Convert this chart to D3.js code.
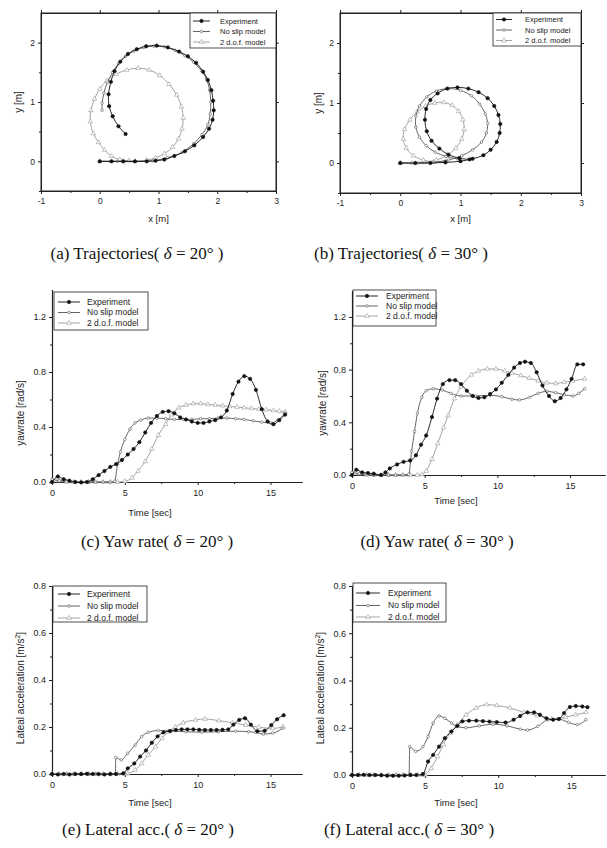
<!DOCTYPE html>
<html>
<head>
<meta charset="utf-8">
<script src="https://cdn.jsdelivr.net/npm/d3@7"></script>
<style>
  body { margin: 0; background: #fff; }
  svg { display: block; }
</style>
</head>
<body>
<script>
// ---- data ----
const seriesNames = ["Experiment", "No slip model", "2 d.o.f. model"];

// trajectories [x, y] in metres
const trajExp20 = [[0,0],[0.2,0],[0.4,0],[0.6,0],[0.8,0],[0.95,0.01],[1.1,0.03],[1.27,0.09],[1.45,0.17],[1.61,0.27],[1.76,0.41],[1.86,0.55],[1.92,0.7],[1.94,0.86],[1.93,1.02],[1.9,1.2],[1.84,1.37],[1.76,1.51],[1.64,1.66],[1.5,1.77],[1.35,1.85],[1.16,1.92],[0.97,1.95],[0.79,1.94],[0.63,1.89],[0.48,1.81],[0.35,1.68],[0.25,1.52],[0.19,1.34],[0.15,1.13],[0.16,0.93],[0.22,0.76],[0.32,0.59],[0.44,0.46]];
const trajNoSlip20 = [[0,0],[0.3,0],[0.6,0],[0.9,0.01],[1.15,0.06],[1.4,0.15],[1.6,0.3],[1.74,0.45],[1.84,0.62],[1.88,0.8],[1.89,1.0],[1.87,1.2],[1.82,1.38],[1.73,1.53],[1.6,1.67],[1.45,1.78],[1.28,1.87],[1.1,1.93],[0.92,1.94],[0.75,1.92],[0.58,1.86],[0.44,1.77],[0.32,1.65],[0.22,1.5],[0.13,1.33],[0.07,1.15],[0.04,0.98],[0.04,0.86]];
const trajDof20 = [[0,0],[0.2,0],[0.4,0],[0.6,0],[0.8,0.02],[0.95,0.06],[1.1,0.13],[1.24,0.24],[1.34,0.38],[1.4,0.55],[1.42,0.73],[1.39,0.92],[1.31,1.12],[1.18,1.3],[1.02,1.45],[0.84,1.54],[0.65,1.57],[0.46,1.54],[0.28,1.47],[0.12,1.36],[0.0,1.22],[-0.09,1.05],[-0.15,0.86],[-0.16,0.67],[-0.11,0.47],[-0.02,0.32],[0.08,0.19],[0.2,0.09],[0.34,0.03],[0.5,0.01]];

const trajExp30 = [[0,0],[0.25,0],[0.5,0],[0.75,0.01],[1.0,0.03],[1.2,0.07],[1.38,0.13],[1.5,0.22],[1.6,0.35],[1.65,0.5],[1.66,0.65],[1.63,0.8],[1.56,0.95],[1.45,1.08],[1.3,1.18],[1.13,1.24],[0.95,1.26],[0.78,1.24],[0.62,1.16],[0.5,1.05],[0.43,0.9],[0.41,0.72],[0.44,0.53],[0.52,0.37],[0.65,0.24],[0.8,0.14],[0.98,0.08],[1.15,0.06]];
const trajNoSlip30 = [[0,0],[0.3,0],[0.55,0.01],[0.8,0.05],[1.02,0.12],[1.2,0.22],[1.35,0.35],[1.43,0.5],[1.45,0.66],[1.41,0.82],[1.32,0.98],[1.18,1.12],[1.0,1.21],[0.8,1.24],[0.6,1.2],[0.44,1.1],[0.32,0.95],[0.26,0.78],[0.26,0.6],[0.32,0.43],[0.43,0.29],[0.58,0.18],[0.76,0.11],[0.95,0.07]];
const trajDof30 = [[0,0],[0.2,0],[0.4,0.01],[0.6,0.05],[0.78,0.13],[0.92,0.25],[1.02,0.4],[1.06,0.56],[1.04,0.72],[0.97,0.86],[0.86,0.96],[0.72,1.01],[0.57,1.0],[0.42,0.95],[0.28,0.85],[0.16,0.72],[0.07,0.56],[0.05,0.4],[0.1,0.25],[0.22,0.12],[0.38,0.05],[0.56,0.02],[0.75,0.03]];

// yaw rate [t, rad/s]
const yawExp20 = [[0,0],[0.4,0.04],[0.8,0.02],[1.2,0.01],[1.6,0],[2.0,-0.003],[2.4,0],[2.8,0.02],[3.2,0.05],[3.6,0.08],[4.0,0.11],[4.4,0.13],[4.8,0.16],[5.2,0.2],[5.6,0.24],[6.0,0.29],[6.4,0.36],[6.8,0.43],[7.2,0.48],[7.6,0.51],[8.0,0.515],[8.4,0.5],[8.8,0.47],[9.2,0.455],[9.6,0.44],[10.0,0.43],[10.4,0.43],[10.8,0.44],[11.2,0.45],[11.6,0.47],[12.0,0.52],[12.4,0.64],[12.8,0.73],[13.2,0.77],[13.6,0.75],[14.0,0.67],[14.4,0.53],[14.8,0.44],[15.2,0.42],[15.6,0.45],[16.0,0.49]];
const yawNoSlip20 = [[0,0.02],[0.5,0.01],[1,0.005],[1.5,0],[2,0],[2.5,0],[3,0],[3.5,0],[4,0],[4.3,0.005],[4.5,0.13],[4.7,0.22],[5.0,0.31],[5.35,0.385],[5.7,0.43],[6.1,0.45],[6.6,0.465],[7.2,0.465],[7.8,0.46],[8.4,0.455],[9.0,0.455],[9.6,0.455],[10.2,0.46],[10.8,0.46],[11.4,0.465],[12.0,0.465],[12.6,0.46],[13.2,0.455],[13.8,0.445],[14.4,0.435],[15.0,0.43],[15.5,0.45],[16.0,0.5]];
const yawDof20 = [[0,0],[0.5,0.01],[1,0],[1.5,0],[2,0],[2.5,0],[3,0],[3.5,0],[4,0],[4.5,0],[5.0,0.005],[5.5,0.03],[5.9,0.08],[6.4,0.15],[6.85,0.24],[7.3,0.34],[7.8,0.42],[8.2,0.49],[8.7,0.54],[9.2,0.56],[9.7,0.57],[10.2,0.57],[10.7,0.565],[11.2,0.56],[11.7,0.555],[12.2,0.55],[12.7,0.545],[13.2,0.54],[13.7,0.535],[14.2,0.53],[14.7,0.525],[15.2,0.52],[15.6,0.515],[16.0,0.51]];

const yawExp30 = [[0,0],[0.3,0.04],[0.7,0.02],[1.1,0.015],[1.5,0.01],[2.0,0],[2.3,0.02],[2.6,0.05],[3.1,0.08],[3.55,0.1],[4.0,0.11],[4.4,0.15],[4.75,0.23],[5.1,0.3],[5.5,0.44],[5.85,0.58],[6.25,0.69],[6.7,0.72],[7.1,0.72],[7.5,0.69],[7.9,0.64],[8.3,0.6],[8.7,0.585],[9.1,0.59],[9.5,0.615],[9.9,0.65],[10.3,0.7],[10.75,0.76],[11.15,0.815],[11.55,0.85],[11.9,0.86],[12.3,0.85],[12.7,0.78],[13.1,0.68],[13.55,0.6],[13.95,0.56],[14.35,0.585],[14.75,0.65],[15.1,0.73],[15.5,0.84],[15.9,0.84]];
const yawNoSlip30 = [[0,0.02],[0.5,0.01],[1,0.005],[1.5,0],[2,0],[2.5,0],[3,0],[3.5,0],[3.9,0.005],[4.1,0.18],[4.3,0.33],[4.5,0.47],[4.8,0.59],[5.1,0.64],[5.6,0.655],[6.2,0.645],[6.8,0.62],[7.5,0.6],[8.5,0.6],[9.5,0.605],[10.3,0.595],[11.0,0.575],[11.5,0.57],[12.2,0.59],[12.8,0.62],[13.4,0.635],[14.0,0.625],[14.6,0.61],[15.2,0.6],[15.6,0.62],[16.0,0.655]];
const yawDof30 = [[0,0],[0.5,0.01],[1,0],[1.5,0],[2,0],[2.5,0],[3,0],[3.5,0],[4,0],[4.5,0],[4.8,0.005],[5.1,0.03],[5.5,0.12],[5.9,0.24],[6.3,0.36],[6.6,0.45],[7.05,0.58],[7.5,0.67],[8.2,0.76],[8.7,0.79],[9.3,0.805],[9.9,0.805],[10.5,0.79],[11.0,0.775],[11.6,0.755],[12.2,0.735],[12.8,0.715],[13.4,0.7],[14.0,0.695],[14.6,0.705],[15.2,0.715],[16.0,0.73]];

// lateral acceleration [t, m/s^2]
const latExp20 = [[0,0],[0.4,-0.002],[0.8,0],[1.2,-0.002],[1.6,0],[2.0,0],[2.4,0.001],[2.8,0],[3.2,0],[3.6,-0.002],[4.0,0],[4.4,0],[4.9,0.003],[5.2,0.024],[5.65,0.045],[6.05,0.074],[6.45,0.1],[6.85,0.133],[7.25,0.16],[7.65,0.177],[8.1,0.183],[8.5,0.187],[8.9,0.19],[9.3,0.19],[9.7,0.19],[10.1,0.188],[10.5,0.187],[10.9,0.187],[11.3,0.187],[11.7,0.188],[12.1,0.19],[12.45,0.21],[12.85,0.23],[13.25,0.237],[13.65,0.21],[14.1,0.182],[14.6,0.184],[15.05,0.208],[15.45,0.233],[15.9,0.25]];
const latNoSlip20 = [[0,0],[0.5,0],[1,0],[1.5,0],[2,0],[2.5,0],[3,0],[3.5,0],[4.0,0],[4.35,0],[4.38,0.07],[4.75,0.06],[5.2,0.088],[5.7,0.123],[6.15,0.159],[6.6,0.177],[7.3,0.185],[8.2,0.183],[9.2,0.18],[10.3,0.178],[11.4,0.18],[12.6,0.182],[13.5,0.18],[14.0,0.177],[14.5,0.17],[15.15,0.174],[15.85,0.195]];
const latDof20 = [[0,0],[0.5,0],[1,0],[1.5,0],[2,0],[2.5,0],[3,0],[3.5,0],[4,0],[4.5,0],[5.0,0],[5.2,0.002],[5.7,0.017],[6.15,0.045],[6.6,0.081],[7.1,0.116],[7.55,0.152],[8.0,0.18],[8.45,0.2],[9.0,0.218],[9.85,0.23],[10.5,0.234],[11.45,0.227],[12.4,0.218],[13.3,0.208],[14.2,0.199],[15.15,0.194],[15.85,0.2]];

const latExp30 = [[0,0],[0.4,0],[0.8,0.001],[1.2,0],[1.6,0],[2.0,-0.001],[2.4,-0.003],[2.8,-0.003],[3.2,-0.003],[3.6,-0.002],[4.0,0],[4.4,0],[4.85,0.004],[5.2,0.057],[5.55,0.085],[5.95,0.12],[6.35,0.156],[6.8,0.184],[7.2,0.208],[7.55,0.227],[8.0,0.23],[8.5,0.23],[8.95,0.228],[9.4,0.226],[9.9,0.224],[10.5,0.222],[11.05,0.234],[11.5,0.25],[12.0,0.265],[12.45,0.265],[12.85,0.255],[13.3,0.24],[13.75,0.234],[14.15,0.237],[14.5,0.262],[14.9,0.288],[15.3,0.292],[15.75,0.29],[16.1,0.287]];
const latNoSlip30 = [[0,0],[0.5,0],[1,0],[1.5,0],[2,0],[2.5,0],[3,0],[3.5,0],[3.9,0],[3.95,0.12],[4.35,0.1],[4.85,0.12],[5.2,0.163],[5.55,0.22],[5.95,0.25],[6.35,0.24],[6.8,0.22],[7.2,0.205],[7.8,0.2],[8.7,0.208],[9.65,0.215],[10.6,0.208],[11.5,0.194],[12.0,0.19],[12.7,0.206],[13.4,0.234],[14.1,0.237],[14.8,0.223],[15.4,0.213],[16.0,0.234]];
const latDof30 = [[0,0],[0.5,0],[1,0],[1.5,0],[2,0],[2.5,0],[3,0],[3.5,0],[4,0],[4.5,0],[4.9,0],[5.0,0.002],[5.4,0.028],[5.85,0.078],[6.25,0.128],[6.7,0.177],[7.2,0.213],[7.8,0.255],[8.5,0.284],[9.2,0.298],[9.9,0.294],[10.8,0.284],[11.75,0.265],[12.7,0.251],[13.65,0.237],[14.6,0.245],[15.3,0.255],[16.0,0.265]];

// tick values
const trajTicksX = [-1, 0, 1, 2, 3];
const trajTicksY = [0, 1, 2];
const timeTicks = [0, 5, 10, 15];
const timeMinor = [2.5, 7.5, 12.5, 17.5];
const yawTicks = [0, 0.4, 0.8, 1.2];
const yawMinor = [0.2, 0.6, 1.0];
const latTicks = [0, 0.2, 0.4, 0.6, 0.8];
const latMinor = [0.1, 0.3, 0.5, 0.7];

// ---- drawing ----
const W = 607, H = 848;
const svg = d3.select("body").append("svg")
    .attr("width", W)
    .attr("height", H)
    .attr("font-family", "'Liberation Sans', Arial, sans-serif");

const styles = [
  {stroke: "#111", sym: "circle", fill: "#111", r: 1.7},
  {stroke: "#555", sym: "circle", fill: "#fff", r: 1.3},
  {stroke: "#9a9a9a", sym: "tri", fill: "#fff", r: 1.6}
];

function marker(g, pts, s) {
  if (s.sym === "circle") {
    g.selectAll(null).data(pts).enter().append("circle")
        .attr("cx", d => d[0]).attr("cy", d => d[1]).attr("r", s.r)
        .attr("fill", s.fill).attr("stroke", s.stroke).attr("stroke-width", 0.6);
  } else {
    g.selectAll(null).data(pts).enter().append("path")
        .attr("transform", d => `translate(${d[0]},${d[1]})`)
        .attr("d", d3.symbol(d3.symbolTriangle, 9))
        .attr("fill", s.fill).attr("stroke", s.stroke).attr("stroke-width", 0.6);
  }
}

function drawSeries(g, data, x, y, s, curve) {
  const line = d3.line().x(d => x(d[0])).y(d => y(d[1])).curve(curve);
  g.append("path").datum(data)
      .attr("fill", "none").attr("stroke", s.stroke).attr("stroke-width", 0.9)
      .attr("d", line);
  marker(g, data.map(d => [x(d[0]), y(d[1])]), s);
}

function legend(g, L) {
  g.append("rect")
      .attr("x", L.x).attr("y", L.y).attr("width", L.w).attr("height", L.h)
      .attr("fill", "#fff").attr("stroke", "#222").attr("stroke-width", 0.8);
  seriesNames.forEach((name, i) => {
    const yy = L.rows[i];
    g.append("line")
        .attr("x1", L.sx0).attr("x2", L.sx1).attr("y1", yy).attr("y2", yy)
        .attr("stroke", styles[i].stroke).attr("stroke-width", 0.9);
    marker(g, [[(L.sx0 + L.sx1) / 2, yy]], styles[i]);
    g.append("text")
        .attr("x", L.tx).attr("y", yy).attr("dy", "0.35em")
        .attr("font-size", L.fs).attr("fill", "#222")
        .text(name);
  });
}

function caption(cx, cy, lead, deg) {
  const t = svg.append("text")
      .attr("x", cx).attr("y", cy)
      .attr("text-anchor", "middle")
      .attr("font-family", "'Liberation Serif', 'Times New Roman', serif")
      .attr("font-size", 17).attr("fill", "#111");
  t.append("tspan").text(lead + "( ");
  t.append("tspan").attr("font-style", "italic").text("\u03b4");
  t.append("tspan").text(" = " + deg + "\u00b0 )");
}

function trajPanel(P) {
  const g = svg.append("g");
  const x = d3.scaleLinear().domain([-1, 3]).range([P.x0, P.x1]);
  const y = d3.scaleLinear().domain([-0.5, 2.5]).range([P.y0, P.y1]);

  g.append("rect")
      .attr("x", P.x0).attr("y", P.y1).attr("width", P.x1 - P.x0).attr("height", P.y0 - P.y1)
      .attr("fill", "none").attr("stroke", "#222").attr("stroke-width", 1);

  g.append("g").attr("transform", `translate(0,${P.y0})`)
      .call(d3.axisBottom(x).tickValues(trajTicksX).tickSize(3).tickSizeOuter(0).tickPadding(4)
        .tickFormat(d => String(d)));
  g.append("g").attr("transform", `translate(${P.x0},0)`)
      .call(d3.axisLeft(y).tickValues(trajTicksY).tickSize(3).tickSizeOuter(0).tickPadding(3)
        .tickFormat(d => String(d)));
  g.append("g").attr("transform", `translate(0,${P.y1})`)
      .call(d3.axisTop(x).tickValues(trajTicksX).tickSize(3).tickSizeOuter(0).tickFormat(""));
  g.append("g").attr("transform", `translate(${P.x1},0)`)
      .call(d3.axisRight(y).tickValues(trajTicksY).tickSize(3).tickSizeOuter(0).tickFormat(""));
  g.append("g").attr("transform", `translate(0,${P.y0})`)
      .call(d3.axisBottom(x).tickValues([-0.5, 0.5, 1.5, 2.5]).tickSize(2).tickSizeOuter(0).tickFormat(""));
  g.append("g").attr("transform", `translate(${P.x0},0)`)
      .call(d3.axisLeft(y).tickValues([-0.5, 0.5, 1.5]).tickSize(2).tickSizeOuter(0).tickFormat(""));
  g.selectAll(".domain").attr("stroke", "#222");
  g.selectAll(".tick line").attr("stroke", "#222");
  g.selectAll(".tick text").attr("font-size", 8.5).attr("fill", "#222");

  const plot = g.append("g");
  [P.dof, P.noslip, P.exp].forEach((d, k) => {
    drawSeries(plot, d, x, y, styles[2 - k], d3.curveCatmullRom);
  });

  g.append("text").attr("x", (P.x0 + P.x1) / 2).attr("y", P.xl)
      .attr("text-anchor", "middle").attr("font-size", 9.5).attr("fill", "#222").text("x [m]");
  g.append("text")
      .attr("transform", `translate(${P.yl},${y(1)}) rotate(-90)`)
      .attr("text-anchor", "middle").attr("font-size", 10).attr("fill", "#222").text("y [m]");

  legend(g, P.legend);
}

function timePanel(P) {
  const g = svg.append("g");
  const x = d3.scaleLinear().domain([0, P.xMax]).range([P.x0, P.x1]);
  const y = d3.scaleLinear().domain([0, P.yMax]).range([P.y0, P.y1]);

  g.append("g").attr("transform", `translate(0,${P.y0})`)
      .call(d3.axisBottom(x).tickValues(timeTicks).tickSize(3).tickSizeOuter(0).tickPadding(5));
  g.append("g").attr("transform", `translate(0,${P.y0})`)
      .call(d3.axisBottom(x).tickValues(timeMinor.filter(v => v < P.xMax)).tickSize(2).tickSizeOuter(0).tickFormat(""));
  g.append("g").attr("transform", `translate(${P.x0},0)`)
      .call(d3.axisLeft(y).tickValues(P.yTicks).tickSize(3).tickSizeOuter(0).tickPadding(3).tickFormat(d3.format(".1f")));
  g.append("g").attr("transform", `translate(${P.x0},0)`)
      .call(d3.axisLeft(y).tickValues(P.yMinor).tickSize(2).tickSizeOuter(0).tickFormat(""));
  g.selectAll(".domain").attr("stroke", "#222").attr("stroke-width", 1.1);
  g.selectAll(".tick line").attr("stroke", "#222");
  g.selectAll(".tick text").attr("font-size", 9).attr("fill", "#222");

  const plot = g.append("g");
  [P.dof, P.noslip, P.exp].forEach((d, k) => {
    drawSeries(plot, d, x, y, styles[2 - k], d3.curveMonotoneX);
  });

  g.append("text").attr("x", P.xlx).attr("y", P.xl)
      .attr("text-anchor", "middle").attr("font-size", 9.5).attr("fill", "#222").text("Time [sec]");
  const yt = g.append("text")
      .attr("transform", `translate(${P.yl},${P.ylc}) rotate(-90)`)
      .attr("text-anchor", "middle").attr("font-size", 10).attr("fill", "#222");
  if (P.kind === "yaw") {
    yt.text("yawrate [rad/s]");
  } else {
    yt.append("tspan").text("Lateal acceleration [m/s");
    yt.append("tspan").attr("dy", -4).attr("font-size", 7).text("2");
    yt.append("tspan").attr("dy", 4).text("]");
  }

  legend(g, P.legend);
}

trajPanel({x0: 41, x1: 276, y0: 191, y1: 13, xl: 222, yl: 22,
  exp: trajExp20, noslip: trajNoSlip20, dof: trajDof20,
  legend: {x: 190, y: 13, w: 86, h: 35, sx0: 193, sx1: 210, tx: 220, rows: [21, 31.5, 42], fs: 7.5}});
trajPanel({x0: 340, x1: 581, y0: 193, y1: 13, xl: 222, yl: 322,
  exp: trajExp30, noslip: trajNoSlip30, dof: trajDof30,
  legend: {x: 493, y: 13, w: 88, h: 33, sx0: 496, sx1: 512, tx: 525, rows: [19.5, 30, 40.5], fs: 7.5}});

timePanel({kind: "yaw", x0: 52, x1: 302, xMax: 17.16, y0: 482, y1: 289.5, yMax: 1.4,
  yTicks: yawTicks, yMinor: yawMinor, xl: 516, xlx: 150, yl: 24, ylc: 413,
  exp: yawExp20, noslip: yawNoSlip20, dof: yawDof20,
  legend: {x: 54, y: 292, w: 94, h: 38, sx0: 58, sx1: 80, tx: 87, rows: [302, 312.5, 323], fs: 8.5}});
timePanel({kind: "yaw", x0: 352, x1: 605, xMax: 17.4, y0: 475, y1: 290.6, yMax: 1.4,
  yTicks: yawTicks, yMinor: yawMinor, xl: 504, xlx: 456, yl: 326, ylc: 403,
  exp: yawExp30, noslip: yawNoSlip30, dof: yawDof30,
  legend: {x: 353, y: 290, w: 83, h: 36, sx0: 356, sx1: 378, tx: 386, rows: [296, 306, 316], fs: 8.5}});
timePanel({kind: "lat", x0: 52, x1: 302, xMax: 17.16, y0: 774, y1: 586, yMax: 0.8,
  yTicks: latTicks, yMinor: latMinor, xl: 806, xlx: 150, yl: 24, ylc: 688,
  exp: latExp20, noslip: latNoSlip20, dof: latDof20,
  legend: {x: 53, y: 586, w: 94, h: 36, sx0: 58, sx1: 80, tx: 87, rows: [594, 606, 618], fs: 8.5}});
timePanel({kind: "lat", x0: 352, x1: 605, xMax: 17.3, y0: 775, y1: 586, yMax: 0.8,
  yTicks: latTicks, yMinor: latMinor, xl: 806, xlx: 456, yl: 324, ylc: 688,
  exp: latExp30, noslip: latNoSlip30, dof: latDof30,
  legend: {x: 353, y: 583, w: 93, h: 39, sx0: 356, sx1: 380, tx: 388, rows: [593, 605.5, 617], fs: 8.5}});

caption(137, 259, "(a) Trajectories", "20");
caption(401, 259, "(b) Trajectories", "30");
caption(157, 547, "(c) Yaw rate", "20");
caption(437, 547, "(d) Yaw rate", "30");
caption(148, 835, "(e) Lateral acc.", "20");
caption(409, 835, "(f) Lateral acc.", "30");
</script>
</body>
</html>
